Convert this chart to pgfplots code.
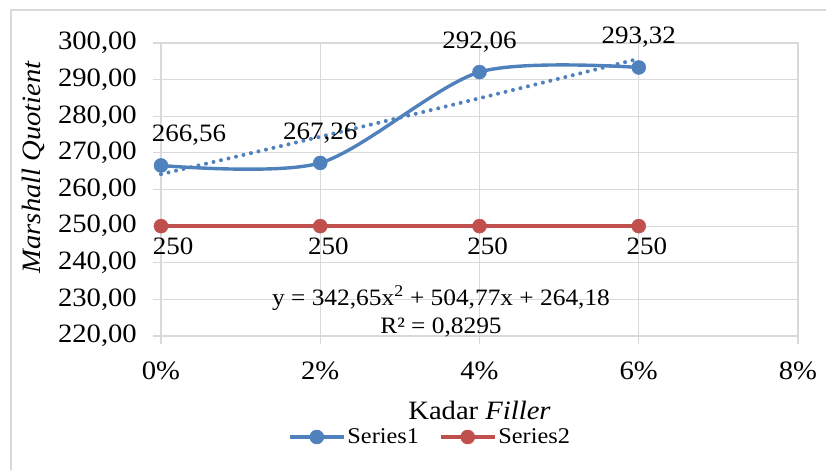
\documentclass[border=0pt]{standalone}
\usepackage{pgfplots}
\pgfplotsset{compat=1.18}
\usepackage{fontspec}
\setmainfont{Liberation Serif}[FakeStretch=1.08]
\definecolor{sblue}{HTML}{4F81BD}
\definecolor{sred}{HTML}{C0504D}
\definecolor{gridc}{HTML}{D9D9D9}
\begin{document}
\begin{tikzpicture}[x=1pt,y=1pt]
\useasboundingbox (0,0) rectangle (826,469);
\fill[white] (0,0) rectangle (826,469);
\draw[gridc, line width=2pt] (11,-2) -- (11,459) -- (828,459);
\begin{axis}[
  at={(161pt,133pt)}, anchor=south west,
  scale only axis, width=637pt, height=293pt,
  xmin=0, xmax=8, ymin=220, ymax=300,
  xtick={0,2,4,6,8}, xticklabels={0\%,2\%,4\%,6\%,8\%},
  ytick={220,230,...,300},
  yticklabel={\pgfmathprintnumber[fixed,fixed zerofill,precision=2,use comma,1000 sep={},assume math mode=true]{\tick}},
  grid=major,
  major grid style={gridc, line width=1.2pt},
  axis line style={gridc, line width=1.2pt},
  tick style={gridc, line width=1.2pt},
  major tick length=8pt, tick align=outside, tick pos=left,
  tick label style={font=\fontsize{26.5pt}{31pt}\selectfont, inner sep=0pt, black},
  xticklabel style={anchor=north, yshift=-18pt},
  yticklabel style={anchor=east, xshift=-16pt},
  label style={font=\fontsize{26.5pt}{31pt}\selectfont, inner sep=0pt},
  xlabel={Kadar \textit{Filler}},
  xlabel style={at={(axis description cs:0.5,-0.2526)}, anchor=center},
  ylabel={\textit{Marshall Quotient}},
  ylabel style={at={(axis description cs:-0.201,0.577)}, anchor=center},
  legend columns=2,
  legend style={draw=none, fill=none, at={(axis description cs:0.4223,-0.3447)}, anchor=center,
    font=\fontsize{22.5pt}{26pt}\selectfont, nodes={inner sep=2pt},
    /tikz/every even column/.append style={column sep=18pt}},
  legend image code/.code={\draw[#1, mark repeat=2, mark phase=2] plot coordinates {(0pt,0pt) (27pt,0pt) (54pt,0pt)};},
  clip=false,
]
\addplot[sblue, line width=4pt, line cap=round, dash pattern=on 0pt off 7.7pt, smooth, forget plot]
  coordinates {(0,264.18) (1,269.26) (2,274.41) (3,279.63) (4,284.92) (5,290.28) (6,295.70)};
\addplot[sblue, line width=3.4pt, smooth, tension=0.48, mark=*, mark size=7pt,
  mark options={solid, line width=0.5pt, fill=sblue},
  nodes near coords={\pgfmathprintnumber[fixed,fixed zerofill,precision=2,use comma,assume math mode=true]{\pgfplotspointmeta}},
  every node near coord/.style={black, font=\fontsize{25pt}{30pt}\selectfont, anchor=center, yshift=30pt, inner sep=0pt},
  coordinate style/.condition={\coordindex==0}{xshift=28pt}]
  coordinates {(0,266.56) (2,267.26) (4,292.06) (6,293.32)};
\addlegendentry{Series1}
\addplot[sred, line width=3.4pt, mark=*, mark size=7pt,
  mark options={solid, line width=0.5pt, fill=sred},
  nodes near coords={\pgfmathprintnumber[fixed,precision=0,assume math mode=true]{\pgfplotspointmeta}},
  every node near coord/.style={black, font=\fontsize{25pt}{30pt}\selectfont, anchor=center, yshift=-20pt, xshift=8pt, inner sep=0pt},
  coordinate style/.condition={\coordindex==0}{xshift=4pt}]
  coordinates {(0,250) (2,250) (4,250) (6,250)};
\addlegendentry{Series2}
\node[font=\fontsize{23.5pt}{28pt}\selectfont, align=center, inner sep=0pt] at (axis description cs:0.4396,0.0853)
  {y = 342,65x\textsuperscript{2} + 504,77x + 264,18\\R² = 0,8295};
\end{axis}
\end{tikzpicture}
\end{document}
